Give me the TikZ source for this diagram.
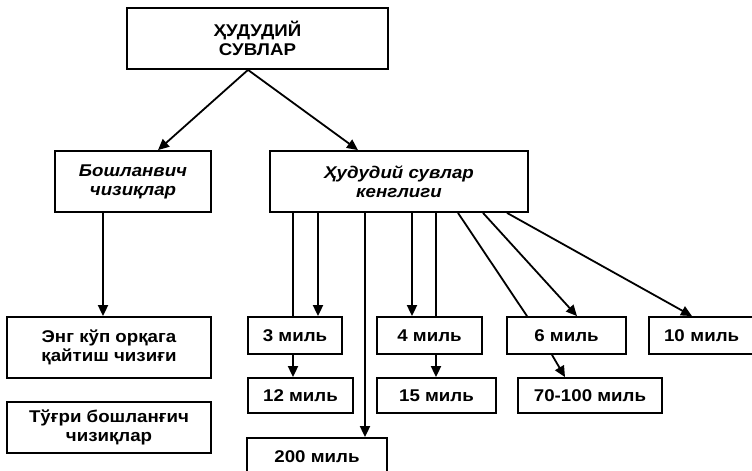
\documentclass[tikz,border=0pt]{standalone}
\usepackage{fontspec}
\setmainfont{Liberation Sans}[FakeStretch=1.1]
\usetikzlibrary{arrows.meta,calc}
\begin{document}
\begin{tikzpicture}[x=1pt,y=-1pt,
  box/.style={draw,line width=1.8pt,rectangle,inner sep=0pt,align=center,
    font=\fontsize{17}{19}\selectfont\bfseries},
  ibox/.style={box,font=\fontsize{17}{19}\selectfont\bfseries\itshape},
  con/.style={line width=1.8pt},
  arr/.style={con,-{Triangle[length=11pt,width=10pt]}}]
\useasboundingbox (0,0) rectangle (752,471);
\clip (0,0) rectangle (752,471);
% nodes
\node[box,minimum width=261pt,minimum height=61pt] (top) at (257.5,38.5) {ҲУДУДИЙ\\СУВЛАР};
\node[ibox,minimum width=156pt,minimum height=61pt] (bosh) at (133,181.5) {Бошланвич\\чизиқлар};
\node[ibox,minimum width=258pt,minimum height=61pt] (hud) at (399,181.5) {Ҳудудий сувлар\\кенглиги};
\node[box,minimum width=204pt,minimum height=61pt] (eng) at (109,347.5) {Энг кўп орқага\\қайтиш чизиғи};
\node[box,minimum width=204pt,minimum height=51pt] (tug) at (109,427.5) {Тўғри бошланғич\\чизиқлар};
\node[box,minimum width=94pt,minimum height=37pt] (m3) at (295,335.5) {3 миль};
\node[box,minimum width=105pt,minimum height=35pt] (m12) at (300.5,395.5) {12 миль};
\node[box,minimum width=140pt,minimum height=37pt] (m200) at (317,456.5) {200 миль};
\node[box,minimum width=105pt,minimum height=37pt] (m4) at (429.5,335.5) {4 миль};
\node[box,minimum width=119pt,minimum height=35pt] (m15) at (436.5,395.5) {15 миль};
\node[box,minimum width=119pt,minimum height=37pt] (m6) at (566.5,335.5) {6 миль};
\node[box,minimum width=144pt,minimum height=35pt] (m70) at (590,395.5) {70-100 миль};
\node[box,minimum width=110pt,minimum height=37pt,text width=100pt,align=left] (m10) at (704,335.5) {\hspace*{10pt}10 миль};
% x guides
\coordinate (xa) at (293,0);
\coordinate (xb) at (318,0);
\coordinate (xc) at (365,0);
\coordinate (xd) at (412,0);
\coordinate (xe) at (436,0);
\coordinate (xf) at (103,0);
% connectors
\draw[arr] ([xshift=-9.5pt]top.south) -- ([xshift=25pt]bosh.north);
\draw[arr] ([xshift=-9.5pt]top.south) -- ([xshift=-41pt]hud.north);
\draw[arr] (bosh.south -| xf) -- (eng.north -| xf);
\draw[con] (hud.south -| xa) -- (m3.north -| xa);
\draw[arr] (m3.south -| xa) -- (m12.north -| xa);
\draw[arr] (hud.south -| xb) -- (m3.north -| xb);
\draw[arr] (hud.south -| xc) -- (m200.north -| xc);
\draw[arr] (hud.south -| xd) -- (m4.north -| xd);
\draw[con] (hud.south -| xe) -- (m4.north -| xe);
\draw[arr] (m4.south -| xe) -- (m15.north -| xe);
\draw[con] ([xshift=59pt]hud.south) -- ([xshift=-39.5pt]m6.north);
\draw[arr] ([xshift=84pt]hud.south) -- ([xshift=10.5pt]m6.north);
\draw[arr] ([xshift=108pt]hud.south) -- ([xshift=-12pt]m10.north);
\draw[arr] ([xshift=-14.5pt]m6.south) -- ([xshift=-25pt]m70.north);
\end{tikzpicture}
\end{document}
